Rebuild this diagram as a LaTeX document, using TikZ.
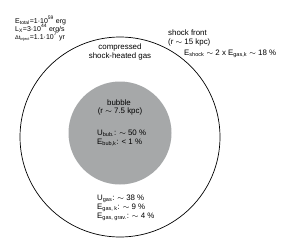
\documentclass[tikz,border=0pt]{standalone}
\usepackage{fontspec}
\setmainfont{Liberation Sans}
\definecolor{bubblegray}{RGB}{166,168,169}
\tikzset{
  lbl/.style={inner sep=0pt, font=\fontsize{7.9}{9}\selectfont},
  small/.style={inner sep=0pt, font=\fontsize{7}{8}\selectfont},
}
\newcommand{\sbs}[1]{\textsubscript{#1}}
\newcommand{\sps}[1]{\textsuperscript{#1}}
\begin{document}
\begin{tikzpicture}[x=1pt,y=-1pt]
\useasboundingbox (0,0) rectangle (299,249);
% outer shock front
\node[circle, draw, line width=0.7pt, minimum size=200pt, inner sep=0pt] (shock) at (120,137) {};
% bubble
\node[circle, fill=bubblegray, minimum size=103pt, inner sep=0pt] (bubble) at (120,133) {};
% top-left parameters
\node[small, anchor=base west] (etot) at (15,23) {E\sbs{total}=1·10\sps{59} erg};
\node[small, anchor=base west] (lx) at (15,31) {L\sbs{X}=3·10\sps{44} erg/s};
\node[small, anchor=base west] (dt) at (15,39) {\fontsize{5.5}{6}\selectfont Δt\sbs{inject}\fontsize{7}{8}\selectfont=1.1·10\sps{7} yr};
% compressed gas
\node[lbl, anchor=base] (comp) at (120,49.5) {compressed};
\node[lbl, anchor=base] (heated) at (120,58.5) {shock-heated gas};
% shock front label
\node[lbl, anchor=base west] (sf) at (168,35) {shock front};
\node[lbl, anchor=base west] (sfr) at (168,44) {(r $\sim$ 15 kpc)};
\node[lbl, anchor=base west] (esh) at (184,55) {E\sbs{shock} $\sim$ 2 x E\sbs{gas,k} $\sim$ 18 \%};
% bubble text
\node[lbl, anchor=base] (bub) at (119,105) {bubble};
\node[lbl, anchor=base] (bubr) at (120,113.5) {(r $\sim$ 7.5 kpc)};
\node[lbl, anchor=base west] (ububl) at (97,135.5) {U\sbs{bub.}: $\sim$ 50 \%};
\node[lbl, anchor=base west] (ebubl) at (97,144) {E\sbs{bub,k}: < 1 \%};
% gas energies
\node[lbl, anchor=base west] (ugas) at (97,200) {U\sbs{gas}: $\sim$ 38 \%};
\node[lbl, anchor=base west] (egk) at (97,209) {E\sbs{gas, k}: $\sim$ 9 \%};
\node[lbl, anchor=base west] (egg) at (97,218) {E\sbs{gas, grav.}: $\sim$ 4 \%};
\end{tikzpicture}
\end{document}
